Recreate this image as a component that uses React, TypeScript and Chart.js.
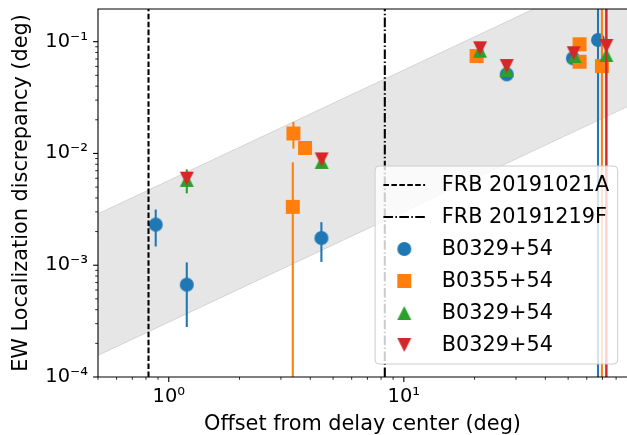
import React, { useEffect, useRef } from 'react';
import { Chart, registerables } from 'chart.js';

Chart.register(...registerables);

// ---------- axes ----------
const X_MIN = 0.5;
const X_MAX = 89;
const Y_MIN = 1e-4;
const Y_MAX = 0.196;
const X_TICK_VALUES = [1, 10];
const X_TICK_LABELS = ['10⁰', '10¹'];
const Y_TICK_VALUES = [1e-4, 1e-3, 1e-2, 1e-1];
const Y_TICK_LABELS = ['10⁻⁴', '10⁻³', '10⁻²', '10⁻¹'];
const X_TITLE = 'Offset from delay center (deg)';
const Y_TITLE = 'EW Localization discrepancy (deg)';

// ---------- FRB vertical lines ----------
const FRB_LABELS = ['FRB 20191021A', 'FRB 20191219F'];
const FRB_OFFSETS = [0.82, 8.3];

// ---------- grey band ----------
const BAND_X = [0.5, 89];
const BAND_LOW = [1.56e-4, 0.0261];
const BAND_HIGH = [2.89e-3, 0.484];

// ---------- pulsar series ----------
const SERIES_LABELS = ['B0329+54', 'B0355+54', 'B0329+54', 'B0329+54'];

const S1_X = [0.88, 1.193, 4.46, 27.4, 52.4, 67.0];
const S1_Y = [2.31e-3, 6.7e-4, 1.75e-3, 0.051, 0.071, 0.1035];
const S1_ERR = [8.4e-4, 3.9e-4, 6.8e-4, 0, 0, 0.15];

const S2_X = [3.37, 3.39, 3.8, 20.4, 55.9, 55.9, 69.6];
const S2_Y = [3.33e-3, 0.0151, 0.0112, 0.0744, 0.0948, 0.0662, 0.0605];
const S2_ERR = [5.0e-3, 4.05e-3, 6e-4, 0, 0, 0, 0.15];

const S3_X = [1.193, 4.47, 21.1, 27.4, 53.3, 72.7];
const S3_Y = [5.8e-3, 8.4e-3, 0.083, 0.0558, 0.0745, 0.076];
const S3_ERR = [1.4e-3, 0, 0, 0, 0, 0.15];

const S4_X = [1.193, 4.47, 21.1, 27.4, 52.8, 72.7];
const S4_Y = [5.95e-3, 8.85e-3, 0.0873, 0.0605, 0.0788, 0.0915];
const S4_ERR = [0, 0, 0, 0, 0, 0.15];

const COLORS = ['#1f77b4', '#ff7f0e', '#2ca02c', '#d62728'];
const SHAPES = ['circle', 'square', 'up', 'down'];

const FONT = 'DejaVu Sans';
const TICK_FS = 19.4;
const LABEL_FS = 20.83;

function minorTicks(min: number, max: number): number[] {
  const out: number[] = [];
  for (let d = Math.floor(Math.log10(min)); d <= Math.ceil(Math.log10(max)); d++) {
    for (let k = 1; k <= 9; k++) {
      const v = parseFloat((k * Math.pow(10, d)).toPrecision(6));
      if (v >= min * 0.9999 && v <= max * 1.0001) out.push(v);
    }
  }
  return out;
}

const isMajor = (v: number, majors: number[]) =>
  majors.some((m) => Math.abs(Math.log10(m) - Math.log10(v)) < 1e-6);

function makeMarker(shape: string, color: string, size = 14): HTMLCanvasElement {
  const S = size + 4;
  const c = document.createElement('canvas');
  c.width = S;
  c.height = S;
  const g = c.getContext('2d')!;
  const h = size / 2;
  const m = S / 2;
  g.fillStyle = color;
  g.beginPath();
  if (shape === 'circle') {
    g.arc(m, m, h, 0, Math.PI * 2);
  } else if (shape === 'square') {
    g.rect(m - h, m - h, size, size);
  } else if (shape === 'up') {
    g.moveTo(m, m - h);
    g.lineTo(m + h, m + h);
    g.lineTo(m - h, m + h);
    g.closePath();
  } else {
    g.moveTo(m, m + h);
    g.lineTo(m + h, m - h);
    g.lineTo(m - h, m - h);
    g.closePath();
  }
  g.fill();
  return c;
}

export default function App() {
  const ref = useRef<HTMLCanvasElement>(null);

  useEffect(() => {
    const canvas = ref.current!;
    const markers = SHAPES.map((s, i) => makeMarker(s, COLORS[i]));

    const xTicks = minorTicks(X_MIN, X_MAX);
    const yTicks = minorTicks(Y_MIN, Y_MAX);

    const seriesX = [S1_X, S2_X, S3_X, S4_X];
    const seriesY = [S1_Y, S2_Y, S3_Y, S4_Y];
    const seriesErr = [S1_ERR, S2_ERR, S3_ERR, S4_ERR];

    const datasets: any[] = [];
    datasets.push({
      type: 'line',
      label: 'band-low',
      data: BAND_X.map((x, i) => ({ x, y: BAND_LOW[i] })),
      borderColor: 'rgba(128,128,128,0.25)',
      borderWidth: 1,
      pointRadius: 0,
      fill: false,
      order: 11,
    });
    datasets.push({
      type: 'line',
      label: 'band-high',
      data: BAND_X.map((x, i) => ({ x, y: BAND_HIGH[i] })),
      borderColor: 'rgba(128,128,128,0.25)',
      borderWidth: 1,
      pointRadius: 0,
      fill: '-1',
      backgroundColor: 'rgba(128,128,128,0.2)',
      order: 10,
    });
    seriesX.forEach((xs, s) => {
      datasets.push({
        type: 'scatter',
        label: SERIES_LABELS[s],
        data: xs.map((x, i) => ({ x, y: seriesY[s][i] })),
        yErr: seriesErr[s],
        errColor: COLORS[s],
        pointStyle: markers[s],
        pointRadius: 7,
        pointBorderWidth: 0,
        showLine: false,
        order: 6 - s,
      });
    });
    const dashes = [[5.55, 2.4], [9.6, 2.4, 1.5, 2.4]];
    FRB_OFFSETS.forEach((x, i) => {
      datasets.push({
        type: 'line',
        label: FRB_LABELS[i],
        data: [
          { x, y: Y_MIN },
          { x, y: Y_MAX },
        ],
        borderColor: '#000',
        borderWidth: 2.08,
        borderDash: dashes[i],
        pointRadius: 0,
        fill: false,
        order: 1,
      });
    });

    const decor = {
      id: 'decor',
      beforeDatasetDraw(chart: any, args: any) {
        const ds = chart.data.datasets[args.index];
        if (!ds.yErr) return;
        const { ctx, chartArea: a } = chart;
        const xs = chart.scales.x;
        const ys = chart.scales.y;
        ctx.save();
        ctx.beginPath();
        ctx.rect(a.left, a.top, a.right - a.left, a.bottom - a.top);
        ctx.clip();
        ctx.strokeStyle = ds.errColor;
        ctx.lineWidth = 2.08;
        ds.data.forEach((p: any, i: number) => {
          const e = ds.yErr[i];
          if (!e) return;
          const px = xs.getPixelForValue(p.x);
          const lo = p.y - e;
          const hi = p.y + e;
          const pLo = lo > 0 ? ys.getPixelForValue(lo) : a.bottom + 5;
          const pHi = ys.getPixelForValue(hi);
          ctx.beginPath();
          ctx.moveTo(px, pLo);
          ctx.lineTo(px, pHi);
          ctx.stroke();
        });
        ctx.restore();
      },
      afterDraw(chart: any) {
        const { ctx, chartArea: a } = chart;
        const xs = chart.scales.x;
        const ys = chart.scales.y;
        ctx.save();
        ctx.strokeStyle = '#000';
        // ticks
        xTicks.forEach((v) => {
          const major = isMajor(v, X_TICK_VALUES);
          const px = xs.getPixelForValue(v);
          ctx.lineWidth = major ? 1.1 : 0.83;
          ctx.beginPath();
          ctx.moveTo(px, a.bottom);
          ctx.lineTo(px, a.bottom + (major ? 4.9 : 2.8));
          ctx.stroke();
        });
        yTicks.forEach((v) => {
          const major = isMajor(v, Y_TICK_VALUES);
          const py = ys.getPixelForValue(v);
          ctx.lineWidth = major ? 1.1 : 0.83;
          ctx.beginPath();
          ctx.moveTo(a.left, py);
          ctx.lineTo(a.left - (major ? 4.9 : 2.8), py);
          ctx.stroke();
        });
        // spines
        ctx.lineWidth = 1.1;
        ctx.beginPath();
        ctx.moveTo(a.left, a.bottom);
        ctx.lineTo(a.left, a.top);
        ctx.lineTo(a.right, a.top);
        ctx.moveTo(a.left, a.bottom);
        ctx.lineTo(a.right, a.bottom);
        ctx.stroke();

        // legend
        const fs = LABEL_FS;
        ctx.font = `${fs}px "${FONT}"`;
        const labels = [...FRB_LABELS, ...SERIES_LABELS];
        const textW = Math.max(...labels.map((l) => ctx.measureText(l).width));
        const pad = 0.4 * fs;
        const hl = 2 * fs;
        const htp = 0.8 * fs;
        const w = pad + hl + htp + textW + pad;
        const right = a.right - 9.3;
        const bottom = a.bottom - 13;
        const h = 198;
        const left = right - w;
        const top = bottom - h;
        const r = 4;
        ctx.beginPath();
        ctx.moveTo(left + r, top);
        ctx.arcTo(right, top, right, bottom, r);
        ctx.arcTo(right, bottom, left, bottom, r);
        ctx.arcTo(left, bottom, left, top, r);
        ctx.arcTo(left, top, right, top, r);
        ctx.closePath();
        ctx.fillStyle = 'rgba(255,255,255,0.8)';
        ctx.fill();
        ctx.strokeStyle = '#cccccc';
        ctx.lineWidth = 1;
        ctx.stroke();

        const hx = left + pad;
        labels.forEach((lab, i) => {
          const cy = top + 19 + 32 * i;
          if (i < 2) {
            ctx.save();
            ctx.strokeStyle = '#000';
            ctx.lineWidth = 2.08;
            ctx.setLineDash(dashes[i]);
            ctx.beginPath();
            ctx.moveTo(hx, cy);
            ctx.lineTo(hx + hl, cy);
            ctx.stroke();
            ctx.restore();
          } else {
            const m = markers[i - 2];
            ctx.drawImage(m, hx + hl / 2 - m.width / 2, cy - m.height / 2);
          }
          ctx.fillStyle = '#000';
          ctx.textBaseline = 'alphabetic';
          ctx.textAlign = 'left';
          ctx.fillText(lab, hx + hl + htp, cy + 5.9);
        });
        ctx.restore();
      },
    };

    const chart = new Chart(canvas, {
      type: 'scatter',
      data: { datasets },
      options: {
        animation: false,
        responsive: false,
        events: [],
        layout: { autoPadding: false, padding: { top: 9, left: 0, right: 0, bottom: 0 } },
        plugins: { legend: { display: false }, tooltip: { enabled: false } },
        scales: {
          x: {
            type: 'logarithmic',
            position: 'bottom',
            min: X_MIN,
            max: X_MAX,
            grid: { display: false, drawTicks: false },
            border: { display: false },
            afterBuildTicks: (s: any) => {
              s.ticks = xTicks.map((v) => ({ value: v }));
            },
            afterFit: (s: any) => {
              s.height = 58;
              s.paddingLeft = 0;
              s.paddingRight = 0;
            },
            ticks: {
              autoSkip: false,
              maxRotation: 0,
              minRotation: 0,
              padding: 8,
              color: '#000',
              font: { family: FONT, size: TICK_FS },
              callback: (v: any) => {
                const i = X_TICK_VALUES.findIndex((m) => Math.abs(Math.log10(m) - Math.log10(v)) < 1e-6);
                return i >= 0 ? X_TICK_LABELS[i] : '';
              },
            },
            title: {
              display: true,
              text: X_TITLE,
              color: '#000',
              font: { family: FONT, size: LABEL_FS, lineHeight: 1 },
              padding: { top: 0, bottom: 0 },
            },
          },
          y: {
            type: 'logarithmic',
            position: 'left',
            min: Y_MIN,
            max: Y_MAX,
            grid: { display: false, drawTicks: false },
            border: { display: false },
            afterBuildTicks: (s: any) => {
              s.ticks = yTicks.map((v) => ({ value: v }));
            },
            afterFit: (s: any) => {
              s.width = 98;
              s.paddingTop = 0;
              s.paddingBottom = 0;
            },
            ticks: {
              autoSkip: false,
              padding: 10,
              color: '#000',
              font: { family: FONT, size: TICK_FS },
              callback: (v: any) => {
                const i = Y_TICK_VALUES.findIndex((m) => Math.abs(Math.log10(m) - Math.log10(v)) < 1e-6);
                return i >= 0 ? Y_TICK_LABELS[i] : '';
              },
            },
            title: {
              display: true,
              text: Y_TITLE,
              color: '#000',
              font: { family: FONT, size: LABEL_FS, lineHeight: 1 },
              padding: { top: 10.7, bottom: 0 },
            },
          },
        },
      } as any,
      plugins: [decor],
    });

    return () => chart.destroy();
  }, []);

  return (
    <canvas
      ref={ref}
      width={627}
      height={435}
      style={{ position: 'absolute', left: 0, top: 0, width: 627, height: 435 }}
    />
  );
}
